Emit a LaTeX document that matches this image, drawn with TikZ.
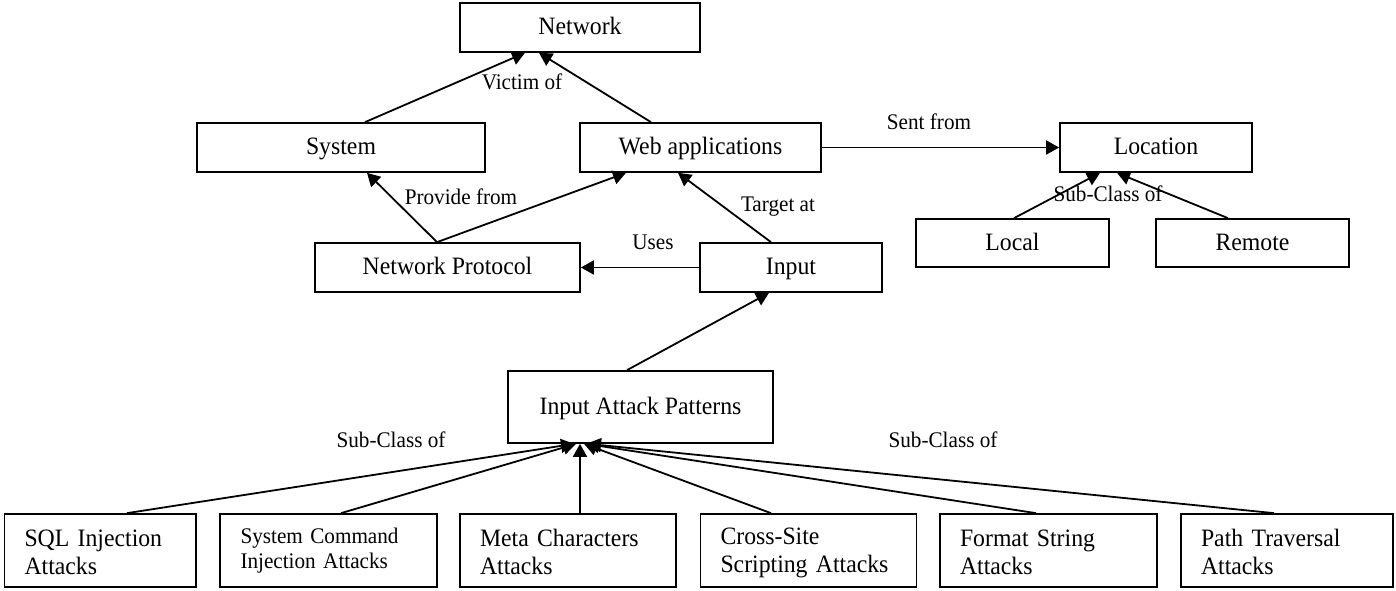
\documentclass[tikz,border=0pt]{standalone}
\usepackage{fontspec}
\setmainfont[FakeStretch=0.95]{Liberation Serif}
\usetikzlibrary{arrows.meta}
\newcommand\TopRule[1]{\rule{0pt}{#1}}
\newcommand\BotRule[1]{\rule[-#1]{0pt}{#1}}
\begin{document}
\begin{tikzpicture}[x=1pt,y=-1pt,
  box/.style={draw,line width=1.7pt,inner sep=0pt,minimum height=49pt,text height=18pt,text depth=4pt,font=\fontsize{25}{28}\selectfont},
  bbox/.style={draw,line width=1.7pt,inner ysep=0pt,inner xsep=20pt,minimum height=73pt,text width=#1,align=left,font=\fontsize{25}{28}\selectfont},
  lbl/.style={font=\fontsize{22.3}{25}\selectfont,inner sep=0pt,text height=15pt,text depth=4pt},
  conn/.style={line width=1.8pt,-{Triangle[length=13pt,width=14pt]}}]
\useasboundingbox (0,0) rectangle (1396,591);
% upper nodes
\node[box,minimum width=240pt] (net) at (580,27.5) {Network};
\node[box,minimum width=288pt] (sys) at (341,147.5) {System};
\node[box,minimum width=241pt] (web) at (700.5,147.5) {Web applications};
\node[box,minimum width=192pt] (loc) at (1156,147.5) {Location};
\node[box,minimum width=193pt,minimum height=48pt] (local) at (1012.5,243) {Local};
\node[box,minimum width=193pt,minimum height=48pt] (remote) at (1252.5,243) {Remote};
\node[box,minimum width=265pt] (np) at (447.5,267.5) {Network Protocol};
\node[box,minimum width=182pt] (inp) at (791,267.5) {Input};
\node[box,minimum width=265pt,minimum height=72pt] (iap) at (640.5,407) {Input Attack Patterns};
% bottom row
\node[bbox=151.5pt] (sql) at (100.25,550.5) {\TopRule{22pt}SQL Injection\\Attacks\BotRule{2pt}};
\node[bbox=176pt,inner xsep=20.5pt,font=\fontsize{22.3}{25}\selectfont] (cmd) at (328.5,550.5) {\TopRule{16pt}System Command\\Injection Attacks\BotRule{4pt}};
\node[bbox=176pt] (meta) at (568,550.5) {\TopRule{22pt}Meta Characters\\Attacks\BotRule{2pt}};
\node[bbox=176pt] (xss) at (808.5,550.5) {\TopRule{22pt}Cross-Site\\Scripting Attacks\BotRule{2pt}};
\node[bbox=177pt] (fmt) at (1048.5,550.5) {\TopRule{22pt}Format String\\Attacks\BotRule{2pt}};
\node[bbox=172pt] (path) at (1287,550.5) {\TopRule{22pt}Path Traversal\\Attacks\BotRule{2pt}};
% connectors
\draw[conn] ([xshift=24pt]sys.north) -- ([xshift=-55pt]net.south);
\draw[conn] ([xshift=-49.5pt]web.north) -- ([xshift=-41pt]net.south);
\draw[conn] ([xshift=-10.5pt]np.north) -- ([xshift=26pt]sys.south);
\draw[conn] ([xshift=-10.5pt]np.north) -- ([xshift=-74.5pt]web.south);
\draw[conn] ([xshift=-20pt]inp.north) -- ([xshift=-22.5pt]web.south);
\draw[conn] (inp.west) -- (np.east);
\draw[conn] (web.east) -- (loc.west);
\draw[conn] ([xshift=1.5pt]local.north) -- ([xshift=-56pt]loc.south);
\draw[conn] ([xshift=-24.5pt]remote.north) -- ([xshift=-39pt]loc.south);
\draw[conn] ([xshift=-13.5pt]iap.north) -- ([xshift=-22pt]inp.south);
\draw[conn] ([xshift=26.75pt]sql.north) -- ([xshift=-66.5pt]iap.south);
\draw[conn] ([xshift=12.5pt]cmd.north) -- ([xshift=-64.5pt]iap.south);
\draw[conn] ([xshift=12pt]meta.north) -- ([xshift=-60.5pt]iap.south);
\draw[conn] ([xshift=-37.5pt]xss.north) -- ([xshift=-56.5pt]iap.south);
\draw[conn] ([xshift=-12.5pt]fmt.north) -- ([xshift=-54.5pt]iap.south);
\draw[conn] ([xshift=-13pt]path.north) -- ([xshift=-52.5pt]iap.south);
% labels
\node[lbl] (l1) at (522,84) {Victim of};
\node[lbl] (l2) at (929,124) {Sent from};
\node[lbl] (l3) at (1108,196) {Sub-Class of};
\node[lbl] (l4) at (461,199) {Provide from};
\node[lbl] (l5) at (778,206) {Target at};
\node[lbl] (l6) at (653,244) {Uses};
\node[lbl] (l7) at (391,442) {Sub-Class of};
\node[lbl] (l8) at (943,442) {Sub-Class of};
\end{tikzpicture}
\end{document}
